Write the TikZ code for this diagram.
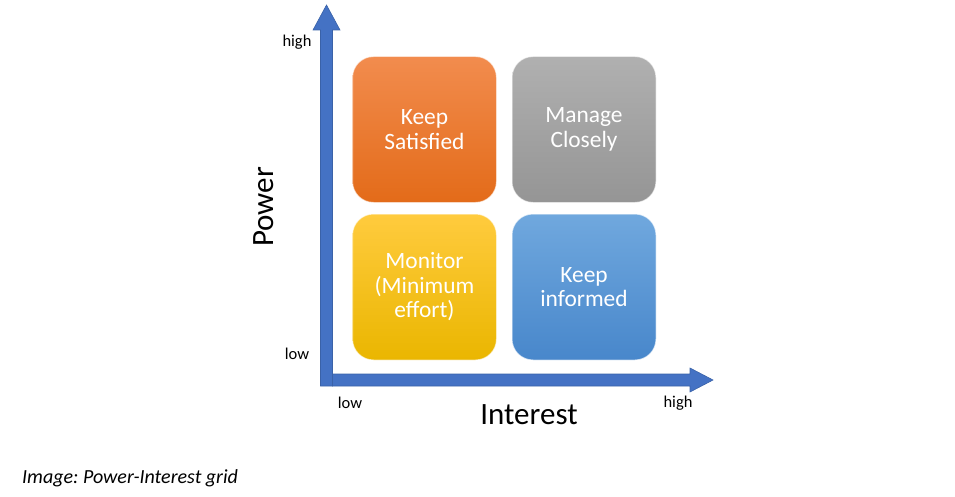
\documentclass[tikz,border=0pt]{standalone}
\usepackage{fontspec}
\setmainfont{Carlito}
\frenchspacing
\definecolor{axisblue}{HTML}{4472C4}
\definecolor{axisedge}{HTML}{3A62A8}
\definecolor{orTop}{HTML}{F28C4E}
\definecolor{orBot}{HTML}{E36B19}
\definecolor{grTop}{HTML}{B0B0B0}
\definecolor{grBot}{HTML}{959595}
\definecolor{yeTop}{HTML}{FFCB3E}
\definecolor{yeBot}{HTML}{EAB600}
\definecolor{blTop}{HTML}{70A8DE}
\definecolor{blBot}{HTML}{4887CB}
\tikzset{
  quadbox/.style={minimum width=144pt, minimum height=146pt, rounded corners=21pt,
    align=center, text=white, inner sep=0pt, draw=white, draw opacity=0.6, line width=1pt,
    font=\fontsize{23.4}{24.5}\selectfont},
  axisarrow/.style={fill=axisblue, draw=axisedge, line width=0.6pt, line join=miter},
  ticklabel/.style={font=\fontsize{16.5}{18}\selectfont, text=black},
  axislabel/.style={font=\fontsize{31}{33}\selectfont, text=black}
}
\begin{document}
\begin{tikzpicture}[x=1pt,y=-1pt]
\useasboundingbox (0,0) rectangle (955,497);
% vertical axis
\path[axisarrow] (320.5,386) -- (320.5,30) -- (313,30) -- (326.5,5) -- (340,30) -- (332.5,30) -- (332.5,386) -- cycle;
% horizontal axis
\path[axisarrow] (332.5,374) -- (690,374) -- (690,368) -- (713,380) -- (690,392) -- (690,386) -- (332.5,386) -- cycle;
% quadrants
\node[quadbox, top color=orTop, bottom color=orBot] (ks) at (424.5,129.5) {Keep\\Satisfied};
\node[quadbox, top color=grTop, bottom color=grBot] (mc) at (584,129.5) {Manage\\Closely};
\node[quadbox, top color=yeTop, bottom color=yeBot] (mo) at (424.5,287) {Monitor\\(Minimum\\effort)};
\node[quadbox, top color=blTop, bottom color=blBot] (ki) at (584,287) {Keep\\informed};
% labels
\node[ticklabel] (phigh) at (297,42) {high};
\node[ticklabel] (plow) at (297,354) {low};
\node[ticklabel] (ilow) at (350,403) {low};
\node[ticklabel] (ihigh) at (678,403) {high};
\node[axislabel, rotate=90] (power) at (264,207) {Power};
\node[axislabel] (interest) at (529,415) {Interest};
\node[anchor=west, inner sep=0pt, font=\fontsize{20}{22}\selectfont\itshape] (caption) at (22,478) {Image: Power-Interest grid};
\end{tikzpicture}
\end{document}
